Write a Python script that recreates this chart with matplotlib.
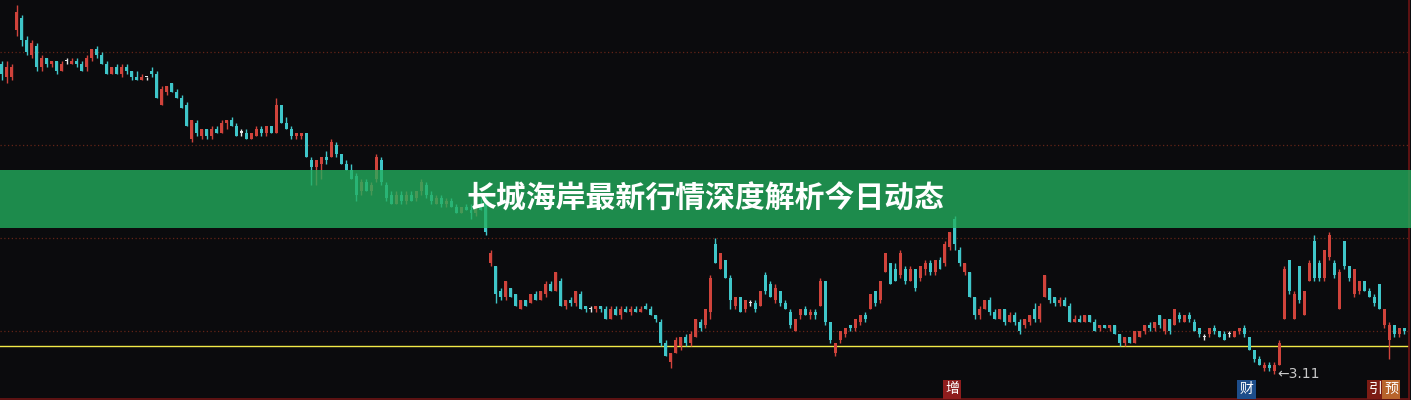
import matplotlib
matplotlib.use("Agg")
import matplotlib.pyplot as plt
from matplotlib.patches import Rectangle
import numpy as np

plt.rcParams['font.family'] = ['Noto Sans CJK SC', 'DejaVu Sans']

title = "长城海岸最新行情深度解析今日动态"

# daily OHLC
opens = [
    4.11, 4.07, 4.07, 4.22, 4.26, 4.19, 4.14, 4.17, 4.10, 4.13,
    4.11, 4.12, 4.09, 4.12, 4.11, 4.12, 4.11, 4.10, 4.13, 4.16,
    4.14, 4.11, 4.08, 4.10, 4.08, 4.10, 4.09, 4.07, 4.06, 4.07,
    4.09, 4.08, 3.98, 4.02, 4.05, 4.02, 4.00, 3.98, 3.87, 3.92,
    3.88, 3.90, 3.88, 3.90, 3.89, 3.92, 3.93, 3.91, 3.89, 3.89,
    3.87, 3.88, 3.90, 3.89, 3.91, 3.89, 3.98, 3.92, 3.90, 3.88,
    3.88, 3.89, 3.80, 3.78, 3.79, 3.81, 3.81, 3.85, 3.82, 3.79,
    3.77, 3.75, 3.70, 3.73, 3.70, 3.74, 3.80, 3.72, 3.69, 3.66,
    3.69, 3.67, 3.69, 3.68, 3.70, 3.72, 3.69, 3.66, 3.68, 3.66,
    3.67, 3.65, 3.63, 3.65, 3.64, 3.63, 3.65, 3.67, 3.47, 3.46,
    3.38, 3.36, 3.39, 3.37, 3.32, 3.35, 3.34, 3.37, 3.35, 3.37,
    3.40, 3.38, 3.41, 3.33, 3.35, 3.34, 3.37, 3.33, 3.32, 3.32,
    3.33, 3.32, 3.29, 3.32, 3.30, 3.32, 3.31, 3.32, 3.31, 3.33,
    3.32, 3.30, 3.28, 3.21, 3.15, 3.18, 3.20, 3.23, 3.21, 3.23,
    3.28, 3.27, 3.31, 3.53, 3.45, 3.48, 3.42, 3.33, 3.36, 3.32,
    3.34, 3.34, 3.33, 3.43, 3.40, 3.35, 3.38, 3.34, 3.31, 3.25,
    3.30, 3.32, 3.30, 3.31, 3.33, 3.41, 3.28, 3.18, 3.22, 3.24,
    3.27, 3.26, 3.28, 3.30, 3.32, 3.38, 3.35, 3.44, 3.47, 3.45,
    3.43, 3.45, 3.41, 3.45, 3.42, 3.45, 3.47, 3.44, 3.48, 3.47,
    3.52, 3.61, 3.51, 3.44, 3.44, 3.36, 3.30, 3.32, 3.35, 3.31,
    3.29, 3.32, 3.28, 3.30, 3.28, 3.27, 3.28, 3.32, 3.29, 3.36,
    3.39, 3.36, 3.34, 3.35, 3.33, 3.28, 3.29, 3.28, 3.30, 3.28,
    3.26, 3.27, 3.26, 3.27, 3.24, 3.21, 3.23, 3.21, 3.23, 3.25,
    3.27, 3.26, 3.30, 3.25, 3.29, 3.27, 3.30, 3.28, 3.30, 3.28,
    3.26, 3.23, 3.24, 3.26, 3.25, 3.24, 3.24, 3.23, 3.25, 3.26,
    3.23, 3.19, 3.16, 3.13, 3.14, 3.12, 3.14, 3.29, 3.48, 3.29,
    3.46, 3.30, 3.41, 3.54, 3.47, 3.42, 3.49, 3.47, 3.32, 3.54,
    3.46, 3.37, 3.38, 3.41, 3.38, 3.36, 3.40, 3.27, 3.22, 3.27,
    3.24, 3.26,
]
highs = [
    4.12, 4.12, 4.11, 4.30, 4.27, 4.20, 4.19, 4.18, 4.14, 4.13,
    4.12, 4.12, 4.12, 4.13, 4.13, 4.13, 4.12, 4.14, 4.16, 4.17,
    4.15, 4.12, 4.10, 4.11, 4.11, 4.11, 4.09, 4.09, 4.08, 4.07,
    4.10, 4.09, 4.04, 4.04, 4.05, 4.03, 4.01, 3.99, 3.93, 3.93,
    3.90, 3.90, 3.91, 3.91, 3.93, 3.93, 3.94, 3.92, 3.90, 3.90,
    3.89, 3.91, 3.91, 3.91, 3.91, 4.00, 3.98, 3.94, 3.91, 3.89,
    3.89, 3.89, 3.81, 3.80, 3.81, 3.83, 3.87, 3.86, 3.82, 3.80,
    3.79, 3.76, 3.74, 3.74, 3.73, 3.82, 3.81, 3.73, 3.70, 3.70,
    3.70, 3.70, 3.70, 3.70, 3.74, 3.73, 3.70, 3.69, 3.69, 3.68,
    3.68, 3.66, 3.65, 3.66, 3.66, 3.65, 3.68, 3.69, 3.51, 3.46,
    3.39, 3.41, 3.39, 3.37, 3.35, 3.35, 3.37, 3.38, 3.38, 3.41,
    3.41, 3.44, 3.42, 3.35, 3.36, 3.38, 3.38, 3.33, 3.33, 3.33,
    3.33, 3.33, 3.33, 3.33, 3.33, 3.33, 3.33, 3.33, 3.33, 3.34,
    3.33, 3.30, 3.29, 3.22, 3.18, 3.23, 3.23, 3.24, 3.25, 3.29,
    3.29, 3.32, 3.43, 3.55, 3.50, 3.48, 3.43, 3.36, 3.36, 3.35,
    3.35, 3.35, 3.38, 3.44, 3.41, 3.40, 3.38, 3.35, 3.32, 3.29,
    3.32, 3.33, 3.32, 3.32, 3.42, 3.41, 3.28, 3.21, 3.25, 3.26,
    3.27, 3.29, 3.30, 3.31, 3.37, 3.38, 3.41, 3.50, 3.47, 3.47,
    3.51, 3.46, 3.46, 3.45, 3.46, 3.48, 3.48, 3.48, 3.49, 3.54,
    3.57, 3.62, 3.52, 3.47, 3.44, 3.36, 3.33, 3.35, 3.36, 3.32,
    3.32, 3.32, 3.31, 3.31, 3.29, 3.29, 3.30, 3.34, 3.34, 3.43,
    3.39, 3.36, 3.36, 3.36, 3.34, 3.30, 3.30, 3.30, 3.30, 3.29,
    3.27, 3.27, 3.27, 3.27, 3.24, 3.23, 3.23, 3.25, 3.25, 3.27,
    3.28, 3.28, 3.30, 3.29, 3.29, 3.32, 3.31, 3.30, 3.31, 3.29,
    3.26, 3.24, 3.26, 3.27, 3.25, 3.25, 3.25, 3.25, 3.26, 3.27,
    3.23, 3.19, 3.17, 3.15, 3.15, 3.15, 3.22, 3.46, 3.48, 3.38,
    3.46, 3.38, 3.48, 3.56, 3.48, 3.51, 3.57, 3.48, 3.45, 3.54,
    3.46, 3.45, 3.41, 3.41, 3.39, 3.37, 3.40, 3.32, 3.28, 3.27,
    3.26, 3.26,
]
lows = [
    4.06, 4.05, 4.06, 4.20, 4.17, 4.14, 4.13, 4.09, 4.09, 4.10,
    4.10, 4.08, 4.09, 4.11, 4.11, 4.10, 4.09, 4.09, 4.12, 4.13,
    4.11, 4.08, 4.08, 4.08, 4.07, 4.08, 4.06, 4.06, 4.06, 4.06,
    4.07, 4.00, 3.98, 4.01, 4.02, 4.00, 3.97, 3.91, 3.86, 3.88,
    3.87, 3.87, 3.87, 3.89, 3.89, 3.90, 3.91, 3.88, 3.88, 3.87,
    3.87, 3.88, 3.88, 3.88, 3.89, 3.89, 3.92, 3.90, 3.87, 3.87,
    3.87, 3.81, 3.72, 3.72, 3.74, 3.79, 3.81, 3.81, 3.79, 3.77,
    3.74, 3.67, 3.69, 3.70, 3.69, 3.73, 3.72, 3.67, 3.66, 3.66,
    3.66, 3.66, 3.67, 3.67, 3.69, 3.68, 3.66, 3.66, 3.65, 3.65,
    3.65, 3.63, 3.63, 3.64, 3.61, 3.62, 3.64, 3.56, 3.46, 3.34,
    3.35, 3.35, 3.36, 3.33, 3.32, 3.33, 3.34, 3.35, 3.35, 3.36,
    3.38, 3.38, 3.33, 3.32, 3.33, 3.33, 3.32, 3.31, 3.31, 3.31,
    3.31, 3.29, 3.29, 3.30, 3.29, 3.31, 3.30, 3.31, 3.31, 3.32,
    3.30, 3.28, 3.20, 3.17, 3.13, 3.18, 3.19, 3.20, 3.20, 3.23,
    3.25, 3.26, 3.29, 3.47, 3.45, 3.42, 3.32, 3.32, 3.31, 3.31,
    3.33, 3.31, 3.33, 3.37, 3.36, 3.34, 3.33, 3.32, 3.26, 3.25,
    3.29, 3.30, 3.29, 3.29, 3.33, 3.27, 3.21, 3.17, 3.21, 3.23,
    3.25, 3.25, 3.27, 3.28, 3.32, 3.33, 3.34, 3.44, 3.40, 3.41,
    3.42, 3.40, 3.41, 3.38, 3.41, 3.43, 3.43, 3.43, 3.45, 3.46,
    3.51, 3.51, 3.46, 3.43, 3.36, 3.29, 3.29, 3.32, 3.30, 3.29,
    3.29, 3.27, 3.28, 3.27, 3.24, 3.26, 3.27, 3.28, 3.28, 3.36,
    3.34, 3.33, 3.33, 3.33, 3.28, 3.28, 3.28, 3.28, 3.28, 3.25,
    3.25, 3.26, 3.25, 3.24, 3.20, 3.20, 3.21, 3.21, 3.23, 3.24,
    3.25, 3.25, 3.26, 3.24, 3.24, 3.27, 3.28, 3.28, 3.28, 3.25,
    3.23, 3.22, 3.23, 3.24, 3.23, 3.22, 3.23, 3.23, 3.24, 3.23,
    3.19, 3.15, 3.14, 3.12, 3.12, 3.11, 3.14, 3.29, 3.37, 3.29,
    3.34, 3.30, 3.41, 3.41, 3.41, 3.41, 3.48, 3.42, 3.32, 3.45,
    3.41, 3.36, 3.37, 3.38, 3.36, 3.33, 3.32, 3.26, 3.16, 3.23,
    3.23, 3.24,
]
closes = [
    4.08, 4.10, 4.10, 4.28, 4.19, 4.15, 4.18, 4.10, 4.13, 4.11,
    4.12, 4.09, 4.11, 4.12, 4.12, 4.11, 4.09, 4.13, 4.16, 4.14,
    4.11, 4.08, 4.10, 4.08, 4.10, 4.09, 4.07, 4.06, 4.07, 4.07,
    4.08, 4.00, 4.03, 4.04, 4.02, 4.00, 3.97, 3.91, 3.93, 3.89,
    3.90, 3.88, 3.90, 3.89, 3.92, 3.93, 3.91, 3.88, 3.89, 3.87,
    3.89, 3.90, 3.89, 3.91, 3.89, 3.98, 3.92, 3.90, 3.88, 3.89,
    3.89, 3.81, 3.78, 3.80, 3.81, 3.80, 3.86, 3.82, 3.79, 3.77,
    3.74, 3.69, 3.73, 3.70, 3.72, 3.81, 3.73, 3.68, 3.66, 3.69,
    3.67, 3.69, 3.67, 3.70, 3.73, 3.69, 3.67, 3.68, 3.66, 3.67,
    3.65, 3.63, 3.65, 3.64, 3.63, 3.65, 3.64, 3.57, 3.50, 3.37,
    3.36, 3.41, 3.36, 3.33, 3.35, 3.33, 3.37, 3.35, 3.38, 3.40,
    3.38, 3.44, 3.33, 3.35, 3.34, 3.38, 3.32, 3.32, 3.32, 3.33,
    3.32, 3.29, 3.32, 3.30, 3.32, 3.31, 3.32, 3.31, 3.32, 3.32,
    3.30, 3.29, 3.21, 3.17, 3.18, 3.22, 3.23, 3.21, 3.24, 3.29,
    3.26, 3.32, 3.42, 3.47, 3.50, 3.42, 3.35, 3.36, 3.31, 3.35,
    3.34, 3.32, 3.38, 3.38, 3.36, 3.39, 3.34, 3.32, 3.27, 3.29,
    3.32, 3.30, 3.31, 3.30, 3.41, 3.28, 3.22, 3.21, 3.25, 3.26,
    3.26, 3.29, 3.30, 3.29, 3.37, 3.34, 3.41, 3.50, 3.40, 3.41,
    3.50, 3.41, 3.45, 3.39, 3.46, 3.47, 3.44, 3.48, 3.45, 3.53,
    3.57, 3.53, 3.47, 3.47, 3.36, 3.30, 3.32, 3.35, 3.31, 3.29,
    3.32, 3.28, 3.30, 3.28, 3.25, 3.29, 3.30, 3.29, 3.33, 3.43,
    3.35, 3.34, 3.35, 3.33, 3.28, 3.29, 3.28, 3.30, 3.28, 3.25,
    3.27, 3.26, 3.27, 3.24, 3.21, 3.23, 3.21, 3.25, 3.25, 3.27,
    3.26, 3.28, 3.27, 3.29, 3.25, 3.32, 3.29, 3.30, 3.29, 3.25,
    3.24, 3.23, 3.26, 3.25, 3.23, 3.22, 3.24, 3.25, 3.26, 3.24,
    3.19, 3.16, 3.14, 3.14, 3.13, 3.14, 3.21, 3.45, 3.38, 3.37,
    3.35, 3.38, 3.47, 3.42, 3.42, 3.51, 3.56, 3.43, 3.44, 3.46,
    3.42, 3.45, 3.41, 3.38, 3.36, 3.34, 3.32, 3.32, 3.27, 3.24,
    3.26, 3.25,
]

grid_levels = [3.25, 3.55, 3.85, 4.15]
ref_level = 3.20
low_bar = 255
tag_labels = ["增", "财", "引", "预"]
tag_bars = [190, 249, 275, 278]

bg = "#0b0b0d"
up_c, down_c, flat_c = "#d0433b", "#3fc6c9", "#e6e6e6"
tag_colors = ["#8e1d1d", "#1d4d8a", "#7c1c14", "#b8642c"]

o = np.array(opens)
h = np.array(highs)
l = np.array(lows)
c = np.array(closes)
assert len(o) == len(h) == len(l) == len(c)
x = np.arange(len(c))
colors = np.where(c > o, up_c, np.where(c < o, down_c, flat_c))

fig = plt.figure(figsize=(14.11, 4.0), dpi=100)
fig.patch.set_facecolor(bg)
ax = fig.add_axes([0, 0.0025, 1409 / 1411, 0.9975])
ax.set_facecolor(bg)

for lv in grid_levels:
    ax.axhline(lv, color="#642417", lw=0.9, ls=(0, (1, 2)), zorder=1)
ax.axhline(ref_level, color="#f2ea48", lw=1.0, zorder=2)

ax.vlines(x, l, h, colors=colors, lw=1.0, zorder=3)
body_h = np.maximum(np.abs(c - o), 0.004)
ax.bar(x, body_h, bottom=np.minimum(o, c), width=0.6, color=colors,
       linewidth=0, zorder=3)

ax.text(low_bar + 0.5, lows[low_bar], "\u2190" + f"{lows[low_bar]:.2f}",
        ha="left", va="center", fontsize=10, color="#c9c9c9",
        family="DejaVu Sans", zorder=4)

for lab, b, col in zip(tag_labels, tag_bars, tag_colors):
    ax.text(b + 0.4, 0.025, lab, transform=ax.get_xaxis_transform(),
            ha="center", va="center", fontsize=10, color="white", zorder=4,
            bbox=dict(boxstyle="square,pad=0.18", fc=col, ec="none"))

ax.set_xlim(-0.4, 282.0)
ax.set_ylim(3.0306, 4.3177)
ax.set_xticks([])
ax.set_yticks([])
for s in ["top", "left"]:
    ax.spines[s].set_visible(False)
for s in ["bottom", "right"]:
    ax.spines[s].set_color("#6e1414")
    ax.spines[s].set_linewidth(1.2)

# title banner across the middle
fig.add_artist(Rectangle((0, 0.43), 1, 0.145, transform=fig.transFigure,
                         facecolor="#23b05e", alpha=0.78, edgecolor="none",
                         zorder=5))
fig.text(0.5, 0.5025, title, ha="center", va="center", fontsize=21.5,
         fontweight=900, color="white", zorder=6)

fig.savefig("out.png", dpi=100, facecolor=bg)
